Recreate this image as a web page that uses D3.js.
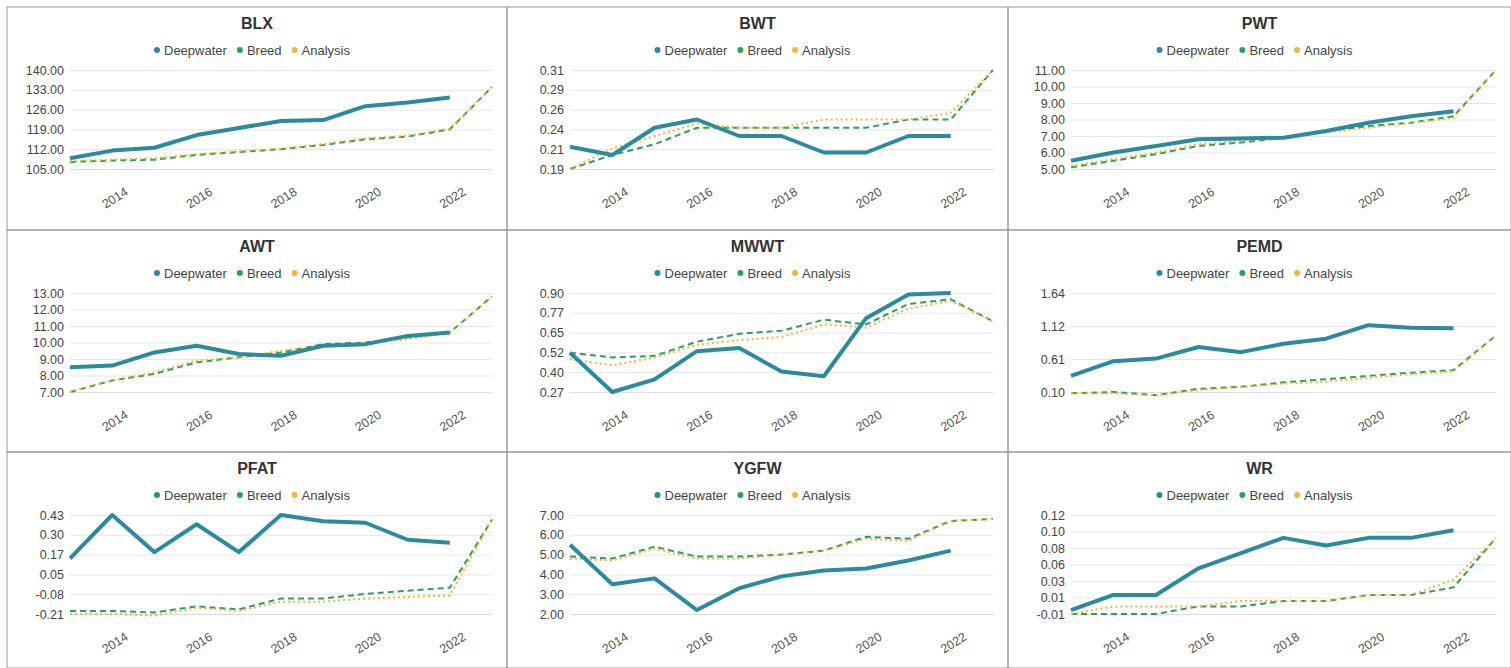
<!DOCTYPE html>
<html><head><meta charset="utf-8">
<script src="https://cdn.jsdelivr.net/npm/d3@7"></script>
<style>body{margin:0;background:#fff;font-family:Arial,"Liberation Sans",sans-serif}</style>
</head><body>
<svg id="c" width="1511" height="668"></svg>
<script>
const years = [2013,2014,2015,2016,2017,2018,2019,2020,2021,2022,2023];
const yearLabels = [2014,2016,2018,2020,2022];
const titles = ["BLX","BWT","PWT","AWT","MWWT","PEMD","PFAT","YGFW","WR"];
const tickLabels = [
  ["105.00","112.00","119.00","126.00","133.00","140.00"],
  ["0.19","0.21","0.24","0.26","0.29","0.31"],
  ["5.00","6.00","7.00","8.00","9.00","10.00","11.00"],
  ["7.00","8.00","9.00","10.00","11.00","12.00","13.00"],
  ["0.27","0.40","0.52","0.65","0.77","0.90"],
  ["0.10","0.61","1.12","1.64"],
  ["-0.21","-0.08","0.05","0.17","0.30","0.43"],
  ["2.00","3.00","4.00","5.00","6.00","7.00"],
  ["-0.01","0.01","0.03","0.06","0.08","0.10","0.12"]
];
const yRanges = [[105,140],[0.19,0.31],[5,11],[7,13],[0.27,0.90],[0.10,1.64],[-0.21,0.43],[2,7],[-0.01,0.12]];
const deepwater = [
  [108.8,111.5,112.5,117,119.5,122,122.3,127.2,128.5,130.3],
  [0.217,0.207,0.240,0.250,0.230,0.230,0.210,0.210,0.230,0.230],
  [5.5,6.0,6.4,6.8,6.85,6.9,7.3,7.8,8.2,8.5],
  [8.5,8.6,9.4,9.8,9.3,9.2,9.8,9.9,10.4,10.6],
  [0.52,0.27,0.35,0.53,0.55,0.40,0.37,0.74,0.89,0.90],
  [0.35,0.58,0.62,0.80,0.72,0.85,0.93,1.14,1.10,1.09],
  [0.15,0.43,0.19,0.37,0.19,0.43,0.39,0.38,0.27,0.25],
  [5.5,3.5,3.8,2.2,3.3,3.9,4.2,4.3,4.7,5.2],
  [-0.005,0.015,0.015,0.05,0.07,0.09,0.08,0.09,0.09,0.10]
];
const breed = [
  [107.5,108,108.3,110,111,112,113.5,115.5,116.5,119,134],
  [0.19,0.207,0.220,0.240,0.240,0.240,0.240,0.240,0.250,0.250,0.31],
  [5.1,5.5,5.9,6.4,6.6,6.9,7.3,7.6,7.8,8.2,11],
  [7.0,7.7,8.1,8.8,9.1,9.4,9.9,10.0,10.3,10.6,12.8],
  [0.52,0.49,0.50,0.59,0.64,0.66,0.73,0.70,0.83,0.86,0.72],
  [0.08,0.10,0.05,0.15,0.18,0.25,0.30,0.35,0.40,0.44,0.98],
  [-0.19,-0.19,-0.20,-0.16,-0.18,-0.11,-0.11,-0.08,-0.06,-0.04,0.40],
  [4.9,4.8,5.4,4.9,4.9,5.0,5.2,5.9,5.8,6.7,6.8],
  [-0.01,-0.01,-0.01,0.0,0.0,0.007,0.007,0.015,0.015,0.025,0.09]
];
const analysis = [
  [107.8,108.3,108.8,110.3,111.3,112.2,113.8,115.8,116.8,119.3,134],
  [0.19,0.215,0.230,0.245,0.240,0.240,0.250,0.250,0.250,0.258,0.31],
  [5.2,5.6,6.0,6.5,6.7,6.9,7.2,7.5,7.8,8.1,11],
  [7.0,7.7,8.2,8.9,9.1,9.5,9.8,10.0,10.2,10.6,12.8],
  [0.48,0.44,0.49,0.57,0.60,0.62,0.70,0.68,0.80,0.85,0.72],
  [0.08,0.08,0.05,0.13,0.18,0.23,0.26,0.32,0.38,0.42,0.98],
  [-0.21,-0.21,-0.22,-0.17,-0.19,-0.13,-0.13,-0.11,-0.10,-0.09,0.40],
  [4.8,4.7,5.3,4.8,4.8,5.0,5.2,5.8,5.7,6.7,6.8],
  [-0.01,0.0,0.0,0.0,0.007,0.007,0.007,0.015,0.015,0.035,0.09]
];
const seriesNames = ["Deepwater","Breed","Analysis"];
const colors = ["#2b8b9c","#2e9e5b","#f6b53a"];

const svg = d3.select("#c");
const colX = [7,507,1008,1511], rowY = [7,230,452,668];

titles.forEach((t,i) => {
  const c = i % 3, r = Math.floor(i / 3);
  const px = colX[c], py = rowY[r], pw = colX[c+1]-px, ph = rowY[r+1]-py;
  const g = svg.append("g").attr("transform", `translate(${px},${py})`);
  g.append("rect").attr("width", pw).attr("height", ph).attr("fill","none").attr("stroke","#999").attr("stroke-width",1);
  g.append("text").attr("x", pw/2).attr("y", 22).attr("text-anchor","middle")
    .attr("font-size",16).attr("font-weight","bold").attr("fill","#333").text(t);

  // legend
  const lg = g.append("g").attr("transform", `translate(${pw/2-104},43)`);
  let lx = 0;
  seriesNames.forEach((n,k) => {
    lg.append("circle").attr("cx", lx+4).attr("cy",0).attr("r",3).attr("fill",colors[k]);
    const tx = lg.append("text").attr("x", lx+11).attr("y",4.5).attr("font-size",13).attr("fill","#444").text(n);
    lx += tx.node().getComputedTextLength() + 20;
  });

  const left = 63, right = pw - 15, top = 63, bottom = 162;
  const x = d3.scaleLinear().domain([2013,2023]).range([left, right]);
  const y = d3.scaleLinear().domain(yRanges[i]).range([bottom, top]);
  const labs = tickLabels[i];
  const tv = labs.map((_,k) => yRanges[i][0] + k*(yRanges[i][1]-yRanges[i][0])/(labs.length-1));

  const ya = g.append("g").attr("transform",`translate(${left},0)`)
    .call(d3.axisLeft(y).tickValues(tv).tickSize(-(right-left)).tickFormat((d,k)=>labs[k]));
  ya.select(".domain").remove();
  ya.selectAll("line").attr("stroke","#e6e6e6");
  ya.selectAll("text").attr("font-size",12.5).attr("fill","#444").attr("x",-6)
    .attr("font-family","Arial,'Liberation Sans',sans-serif");

  const xa = g.append("g").attr("transform",`translate(0,${bottom})`)
    .call(d3.axisBottom(x).tickValues(yearLabels).tickSize(0).tickFormat(d3.format("d")));
  xa.select(".domain").attr("stroke","#ddd");
  xa.selectAll("text").attr("font-size",12.5).attr("fill","#555").attr("text-anchor","end")
    .attr("font-family","Arial,'Liberation Sans',sans-serif")
    .attr("transform","translate(10,15) rotate(-32)");

  const line = d3.line().x((d,k)=>x(years[k])).y(d=>y(d));
  g.append("path").attr("d", line(breed[i])).attr("fill","none").attr("stroke",colors[1]).attr("stroke-width",2).attr("stroke-dasharray","6,4");
  g.append("path").attr("d", line(analysis[i])).attr("fill","none").attr("stroke",colors[2]).attr("stroke-width",2).attr("stroke-dasharray","2,3");
  g.append("path").attr("d", line(deepwater[i])).attr("fill","none").attr("stroke",colors[0]).attr("stroke-width",4).attr("stroke-linejoin","round");
});
</script>
</body></html>
